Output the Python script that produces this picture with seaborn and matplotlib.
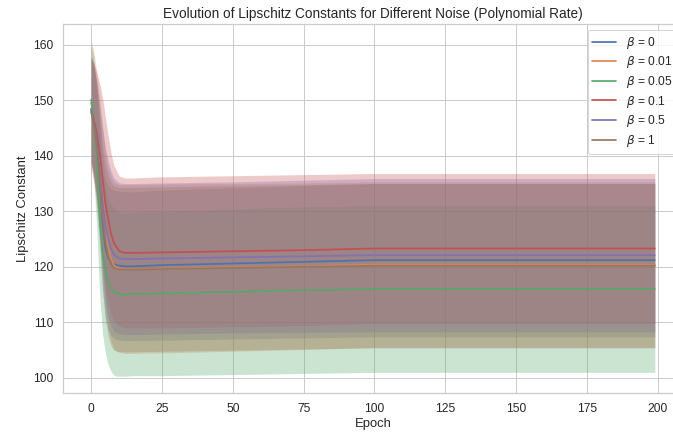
import numpy as np
import pandas as pd
import matplotlib
matplotlib.use('Agg')
import matplotlib.pyplot as plt
import seaborn as sns

epochs = [0, 1, 2, 3, 4, 5, 6, 7, 8, 9, 10, 12, 15, 25, 50, 75, 100, 199]

betas = ['0', '0.01', '0.05', '0.1', '0.5', '1']

mean_b0 = [148.5, 146.5, 142.5, 136.0, 128.0, 123.5, 121.6, 120.8, 120.5, 120.3,
           120.2, 120.1, 120.1, 120.3, 120.6, 120.9, 121.2, 121.2]
std_b0 = [9.5, 10.0, 10.5, 11.0, 12.0, 12.5, 13.0, 13.2, 13.3, 13.4,
          13.4, 13.4, 13.4, 13.5, 13.6, 13.7, 13.8, 13.8]

mean_b001 = [149.5, 147.0, 143.5, 138.5, 133.0, 127.5, 123.5, 121.5, 120.3, 119.9,
             119.7, 119.6, 119.6, 119.7, 119.9, 120.1, 120.4, 120.4]
std_b001 = [11.2, 11.5, 11.5, 12.0, 12.5, 13.5, 14.5, 14.8, 15.0, 15.1,
            15.1, 15.2, 15.2, 15.2, 15.1, 15.0, 14.9, 14.9]

mean_b005 = [150.1, 146.5, 139.0, 129.0, 122.5, 119.5, 117.3, 116.2, 115.5, 115.2,
             115.1, 115.0, 115.1, 115.2, 115.5, 115.8, 116.0, 116.0]
std_b005 = [10.0, 11.0, 12.5, 14.0, 14.5, 15.0, 15.0, 15.0, 15.0, 14.9,
            14.8, 14.7, 14.7, 14.8, 14.9, 15.0, 15.0, 15.0]

mean_b01 = [148.0, 146.5, 144.0, 140.5, 136.0, 131.5, 128.6, 126.0, 124.3, 123.5,
            122.8, 122.5, 122.5, 122.6, 122.8, 123.0, 123.3, 123.3]
std_b01 = [9.5, 10.0, 11.0, 12.5, 14.5, 15.5, 15.0, 14.5, 14.0, 13.7,
           13.5, 13.5, 13.5, 13.6, 13.6, 13.6, 13.5, 13.5]

mean_b05 = [148.3, 146.0, 142.5, 137.5, 132.0, 127.5, 125.0, 123.3, 122.2, 121.8,
            121.5, 121.4, 121.4, 121.5, 121.7, 121.9, 122.1, 122.1]
std_b05 = [9.3, 9.8, 10.5, 11.5, 13.0, 14.0, 14.0, 13.9, 13.8, 13.7,
           13.6, 13.6, 13.6, 13.6, 13.6, 13.7, 13.8, 13.8]

mean_b1 = [147.8, 145.5, 141.5, 135.5, 129.0, 124.5, 122.0, 120.5, 119.8, 119.6,
           119.5, 119.5, 119.5, 119.6, 119.8, 120.0, 120.2, 120.2]
std_b1 = [10.0, 10.5, 11.0, 12.0, 13.0, 14.0, 14.5, 14.7, 14.8, 14.8,
          14.8, 14.8, 14.8, 14.8, 14.8, 14.8, 14.8, 14.8]

means = [mean_b0, mean_b001, mean_b005, mean_b01, mean_b05, mean_b1]
stds = [std_b0, std_b001, std_b005, std_b01, std_b05, std_b1]

sns.set_theme(style='whitegrid')
plt.rcParams['font.family'] = ['Liberation Sans', 'DejaVu Sans']

fig = plt.figure(figsize=(673 / 72, 437 / 72), dpi=72)
# the original picture was cropped on the right, so the axes run past the edge
ax = fig.add_axes([63 / 673, 44 / 437, 620 / 673, 369 / 437])
colors = sns.color_palette('deep', 6)

for i in range(len(betas)):
    df = pd.DataFrame({'epoch': epochs, 'mean': means[i], 'std': stds[i]})
    sns.lineplot(x='epoch', y='mean', data=df, ax=ax, color=colors[i],
                 linewidth=1.7, label=r'$\beta$ = ' + betas[i])
    ax.fill_between(df['epoch'], df['mean'] - df['std'], df['mean'] + df['std'],
                    color=colors[i], alpha=0.3, linewidth=0)

ax.set_title('Evolution of Lipschitz Constants for Different Noise (Polynomial Rate)',
             fontsize=13.6)
ax.set_xlabel('Epoch', fontsize=13)
ax.set_ylabel('Lipschitz Constant', fontsize=13)
ax.tick_params(labelsize=12)
ax.legend(loc='upper right', fontsize=12, labelspacing=0.3)

plt.savefig('out.png', dpi=72)
